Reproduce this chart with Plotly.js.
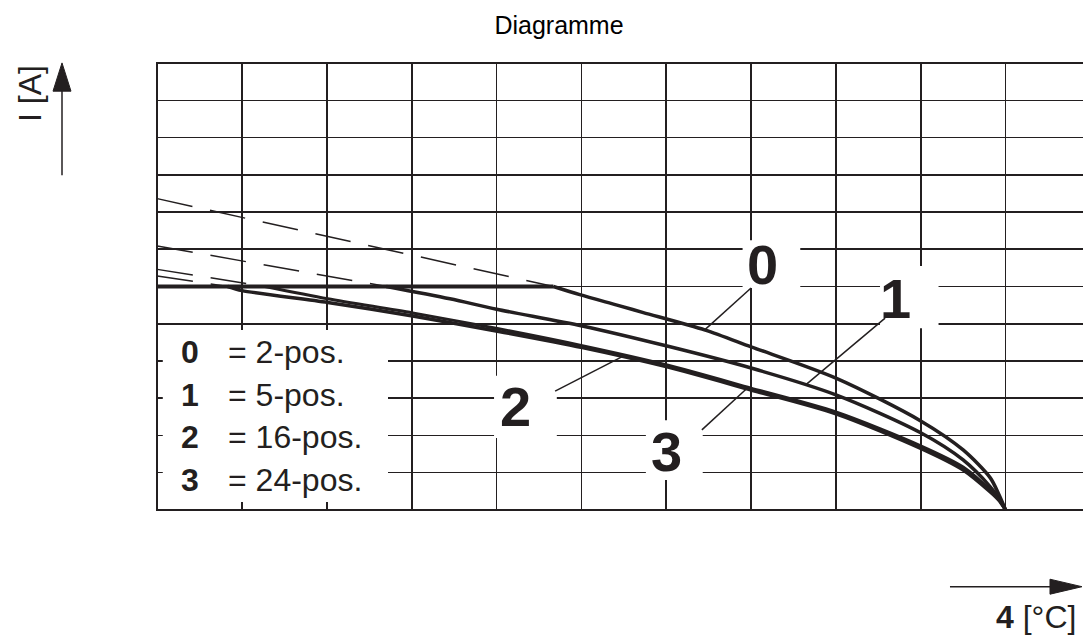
<!DOCTYPE html>
<html>
<head>
<meta charset="utf-8">
<script src="https://cdn.plot.ly/plotly-3.0.1.min.js"></script>
<style>
  html, body { margin: 0; padding: 0; background: #fff; }
  #chart { width: 1083px; height: 639px; }
</style>
</head>
<body>
<div id="chart"></div>
<script>
// values (x: grid columns, y: grid rows)
const flatX = [0, 4.67];
const flatY = [6, 6];

const curve0X = [4.67, 4.98, 5.42, 5.73, 6.46, 7.00, 8.00, 9.00, 9.50, 9.82, 9.92, 10.0];
const curve0Y = [6.00, 5.78, 5.50, 5.30, 4.83, 4.38, 3.54, 2.39, 1.61, 0.86, 0.42, 0.0];

const curve1X = [2.70, 3.45, 4.00, 5.01, 6.01, 7.00, 8.00, 9.00, 9.50, 9.82, 9.92, 10.0];
const curve1Y = [6.00, 5.67, 5.39, 4.94, 4.40, 3.81, 3.09, 2.07, 1.34, 0.62, 0.32, 0.0];

const curve2X = [1.27, 2.01, 3.01, 4.01, 5.01, 6.01, 7.00, 8.00, 9.00, 9.50, 9.82, 9.92, 10.0];
const curve2Y = [6.00, 5.67, 5.29, 4.87, 4.41, 3.89, 3.27, 2.63, 1.72, 1.15, 0.53, 0.28, 0.0];

const curve3X = [0.83, 1.00, 2.01, 3.01, 4.01, 5.01, 6.01, 7.00, 8.00, 9.00, 9.50, 9.82, 9.92, 10.0];
const curve3Y = [6.00, 5.89, 5.57, 5.21, 4.80, 4.36, 3.84, 3.22, 2.58, 1.65, 1.07, 0.48, 0.26, 0.0];

// dashed extrapolations back to x = 0
const dashStartY = [8.36, 7.09, 6.46, 6.28];
const dashEndX = [4.67, 2.70, 1.27, 0.83];

const legendKeys = ['0', '1', '2', '3'];
const legendNames = ['= 2-pos.', '= 5-pos.', '= 16-pos.', '= 24-pos.'];

const ink = '#231f20';
const font = 'Liberation Sans, Arial, Helvetica, sans-serif';

const data = [];
dashStartY.forEach((y0, i) => {
    data.push({
        x: [0, dashEndX[i]], y: [y0, 6],
        type: 'scatter', mode: 'lines',
        line: { color: ink, width: 1.5, dash: '36px,18px' },
        hoverinfo: 'skip'
    });
});
data.push({ x: flatX, y: flatY, type: 'scatter', mode: 'lines', line: { color: ink, width: 4 } });
data.push({ x: curve0X, y: curve0Y, type: 'scatter', mode: 'lines', line: { color: ink, width: 3.5, shape: 'spline', smoothing: 0.8 } });
data.push({ x: curve1X, y: curve1Y, type: 'scatter', mode: 'lines', line: { color: ink, width: 3.5, shape: 'spline', smoothing: 0.8 } });
data.push({ x: curve2X, y: curve2Y, type: 'scatter', mode: 'lines', line: { color: ink, width: 3, shape: 'spline', smoothing: 0.8 } });
data.push({ x: curve3X, y: curve3Y, type: 'scatter', mode: 'lines', line: { color: ink, width: 3.5, shape: 'spline', smoothing: 0.8 } });

// white knock-out boxes behind the labels (drawn over the grid, under the curves)
function knockout(x0, x1, y0, y1) {
    return { type: 'rect', xref: 'x', yref: 'y', x0: x0, x1: x1, y0: y0, y1: y1,
             fillcolor: '#fff', line: { width: 0 }, layer: 'between' };
}
function pointer(x0, y0, x1, y1) {
    return { type: 'line', xref: 'x', yref: 'y', x0: x0, y0: y0, x1: x1, y1: y1,
             line: { color: ink, width: 1.5 }, layer: 'above' };
}

const shapes = [
    knockout(0.065, 2.72, 0.21, 4.83),
    knockout(6.90, 7.58, 5.96, 7.24),
    knockout(8.52, 9.21, 4.88, 6.55),
    knockout(3.97, 4.71, 1.93, 3.60),
    knockout(5.76, 6.43, 0.80, 2.41),
    pointer(7.00, 5.96, 6.46, 4.85),
    pointer(8.58, 5.15, 7.64, 3.35),
    pointer(4.69, 3.19, 5.51, 4.15),
    pointer(6.42, 2.15, 6.95, 3.26),
    // y arrow
    { type: 'line', xref: 'paper', yref: 'paper', x0: -0.1014, x1: -0.1014, y0: 0.748, y1: 0.938,
      line: { color: ink, width: 1.5 } },
    { type: 'path', xref: 'paper', yref: 'paper',
      path: 'M -0.1111 0.935 L -0.0917 0.935 L -0.1014 0.998 Z', fillcolor: ink, line: { color: ink, width: 1 } },
    // x arrow
    { type: 'line', xref: 'paper', yref: 'paper', x0: 0.8565, x1: 0.97, y0: -0.1686, y1: -0.1686,
      line: { color: ink, width: 1.5 } },
    { type: 'path', xref: 'paper', yref: 'paper',
      path: 'M 0.9644 -0.1519 L 0.9644 -0.1853 L 0.9989 -0.1686 Z', fillcolor: ink, line: { color: ink, width: 1 } }
];

const legendRowY = [4.24, 3.09, 1.96, 0.80];
const annotations = [];
legendKeys.forEach((k, i) => {
    annotations.push({ x: 0.38, y: legendRowY[i], xref: 'x', yref: 'y', text: '<b>' + k + '</b>',
                       showarrow: false, font: { family: font, size: 32, color: ink } });
    annotations.push({ x: 0.81, y: legendRowY[i], xref: 'x', yref: 'y', text: legendNames[i],
                       xanchor: 'left', showarrow: false, font: { family: font, size: 32, color: ink } });
});

const bigLabels = [
    { t: '0', x: 7.13, y: 6.60 },
    { t: '1', x: 8.70, y: 5.69 },
    { t: '2', x: 4.22, y: 2.79 },
    { t: '3', x: 6.00, y: 1.56 }
];
bigLabels.forEach(b => {
    annotations.push({ x: b.x, y: b.y, xref: 'x', yref: 'y', text: '<b>' + b.t + '</b>',
                       showarrow: false, font: { family: font, size: 56, color: ink } });
});

annotations.push({ x: -0.136, y: 0.931, xref: 'paper', yref: 'paper', text: 'I [A]', textangle: -90,
                   xanchor: 'center', yanchor: 'middle',
                   showarrow: false, font: { family: font, size: 32, color: ink } });
annotations.push({ x: 0.9935, y: -0.236, xref: 'paper', yref: 'paper', text: '<b>4</b> [°C]',
                   xanchor: 'right', yanchor: 'middle', borderpad: 0,
                   showarrow: false, font: { family: font, size: 32, color: ink } });

const layout = {
    width: 1083,
    height: 639,
    title: { text: 'Diagramme', x: 559 / 1083, xanchor: 'center', xref: 'container',
             y: 1 - 25 / 639, yanchor: 'middle', font: { family: font, size: 25, color: '#000' } },
    margin: { l: 156, r: 0, t: 62, b: 128 },
    showlegend: false,
    paper_bgcolor: '#fff',
    plot_bgcolor: '#fff',
    xaxis: {
        range: [-0.015, 10.913], tickvals: [0, 1, 2, 3, 4, 5, 6, 7, 8, 9, 10],
        showticklabels: false, ticks: '', zeroline: false, showline: false,
        gridcolor: ink, gridwidth: 1.6, fixedrange: true
    },
    yaxis: {
        range: [-0.03, 12.03], tickvals: [0, 1, 2, 3, 4, 5, 6, 7, 8, 9, 10, 11, 12],
        showticklabels: false, ticks: '', zeroline: false, showline: false,
        gridcolor: ink, gridwidth: 1.6, fixedrange: true
    },
    shapes: shapes,
    annotations: annotations
};

Plotly.newPlot('chart', data, layout, { displayModeBar: false, staticPlot: true });
</script>
</body>
</html>
